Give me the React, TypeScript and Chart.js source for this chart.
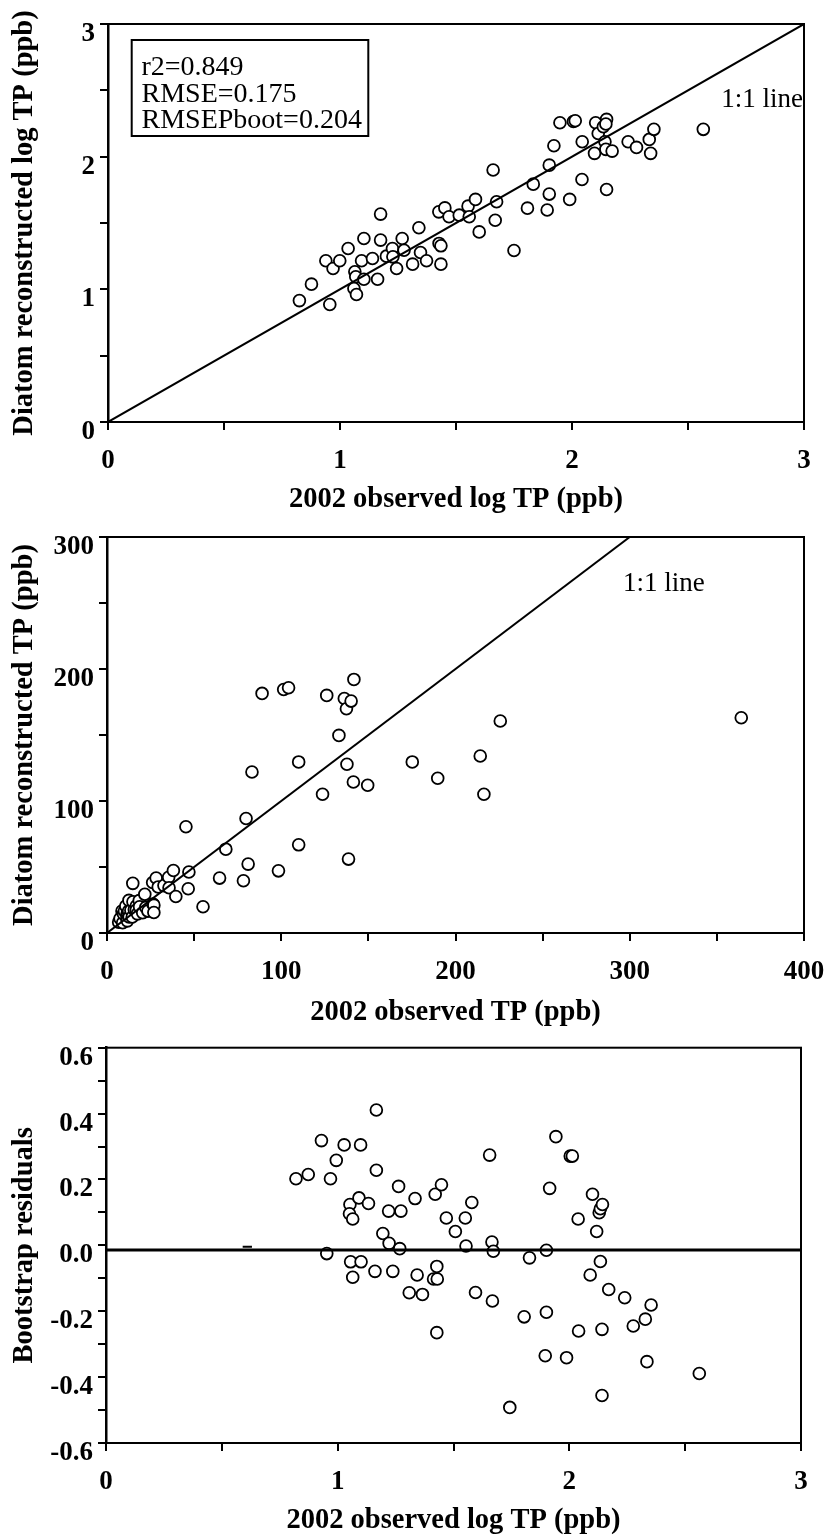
import React, { useEffect, useRef } from "react";
import { Chart, registerables } from "chart.js";

Chart.register(...registerables);

const FONT = "'Liberation Serif', 'Times New Roman', Times, serif";

// ---------- Panel 1: observed vs reconstructed log TP ----------
const logObs = [
  0.825, 0.877, 0.956, 0.939, 0.970, 0.999, 1.035, 1.064, 1.068, 1.060,
  1.071, 1.093, 1.103, 1.103, 1.140, 1.162, 1.175, 1.175, 1.200, 1.226,
  1.228, 1.244, 1.268, 1.276, 1.313, 1.340, 1.347, 1.373, 1.426, 1.427,
  1.435, 1.435, 1.452, 1.470, 1.514, 1.552, 1.557, 1.584, 1.600, 1.660,
  1.669, 1.675, 1.750, 1.808, 1.833, 1.893, 1.902, 1.902, 1.922, 1.948,
  1.990, 2.006, 2.014, 2.044, 2.043, 2.097, 2.102, 2.113, 2.135, 2.142,
  2.149, 2.149, 2.146, 2.173, 2.242, 2.278, 2.333, 2.339, 2.353, 2.566,
  2.146,
];
const logRec = [
  0.915, 1.039, 0.886, 1.215, 1.157, 1.215, 1.308, 1.132, 1.095, 1.006,
  0.961, 1.215, 1.383, 1.076, 1.232, 1.076, 1.567, 1.371, 1.250, 1.308,
  1.245, 1.157, 1.383, 1.295, 1.190, 1.464, 1.278, 1.215, 1.584, 1.346,
  1.328, 1.190, 1.614, 1.547, 1.559, 1.627, 1.547, 1.678, 1.433, 1.899,
  1.521, 1.660, 1.293, 1.612, 1.793, 1.598, 1.718, 1.936, 2.082, 2.256,
  1.678, 2.265, 2.271, 2.112, 1.828, 2.025, 2.256, 2.175, 2.225, 2.112,
  2.281, 1.753, 2.055, 2.042, 2.112, 2.070, 2.130, 2.025, 2.206, 2.206,
  2.246,
];
const logLine = [0, 3];
const statsLines = ["r2=0.849", "RMSE=0.175", "RMSEPboot=0.204"];
const lineLabel = "1:1 line";

// ---------- Panel 2: observed vs reconstructed TP ----------
const tpObs = [
  6.7, 7.5, 9.0, 8.6, 9.4, 10.0, 10.8, 11.5, 11.6, 11.5,
  11.7, 12.4, 12.6, 12.7, 13.7, 14.5, 14.8, 14.9, 15.7, 16.8,
  16.8, 17.5, 18.5, 18.7, 20.5, 21.7, 22.3, 23.5, 26.2, 26.4,
  26.9, 26.9, 28.2, 29.4, 32.7, 35.4, 35.6, 38.1, 39.5, 45.3,
  46.6, 47.0,
  55.1, 64.6, 68.2, 78.3, 81.0, 79.8, 83.2, 89.0, 98.4, 101.4,
  104.2, 110.0, 110.0, 123.7, 126.1, 133.1, 136.2, 137.4, 137.7, 138.6,
  140.1, 141.7, 141.4, 149.6, 175.2, 189.8, 214.2, 216.3, 225.7, 364.0,
];
const tpRec = [
  8.2, 11.0, 7.8, 16.7, 14.5, 16.7, 20.5, 14.3, 12.7, 10.4,
  9.2, 16.7, 24.7, 12.1, 17.3, 12.1, 37.6, 23.7, 17.7, 20.5,
  17.4, 14.5, 24.5, 19.9, 15.3, 29.3, 19.4, 16.6, 38.3, 22.0,
  21.1, 15.5, 41.7, 34.9, 35.9, 42.2, 34.3, 47.3, 27.7, 80.5,
  33.5, 46.2,
  19.9, 41.6, 63.5, 39.6, 52.2, 86.7, 122.0, 181.5, 47.1, 184.5,
  185.8, 129.6, 66.8, 105.1, 180.0, 149.7, 177.7, 169.9, 127.8, 56.0,
  175.7, 192.1, 114.4, 111.9, 129.6, 117.2, 134.1, 105.1, 160.6, 163.1,
];
const tpLine = [0, 300];

// ---------- Panel 3: bootstrap residuals ----------
const resObs = [
  0.820, 0.873, 0.930, 0.953, 0.969, 0.994, 1.028, 1.053, 1.051, 1.065,
  1.056, 1.065, 1.092, 1.099, 1.101, 1.133, 1.161, 1.167, 1.167, 1.195,
  1.220, 1.222, 1.238, 1.263, 1.268, 1.273, 1.309, 1.334, 1.343, 1.366,
  1.414, 1.421, 1.428, 1.430, 1.428, 1.448, 1.469, 1.508, 1.551, 1.554,
  1.579, 1.595, 1.656, 1.666, 1.672, 1.668, 1.743, 1.805, 1.828, 1.896,
  1.901, 1.901, 1.915, 1.942, 1.988, 2.004, 2.013, 2.038, 2.040, 2.090,
  2.100, 2.118, 2.129, 2.134, 2.134, 2.143, 2.141, 2.141, 2.170, 2.239,
  2.276, 2.328, 2.335, 2.353, 2.561,
];
const resVal = [
  0.202, 0.215, 0.318, -0.025, 0.202, 0.258, 0.305, 0.124, 0.096, 0.080,
  -0.050, -0.097, 0.144, 0.305, -0.050, 0.127, -0.079, 0.411, 0.228, 0.036,
  0.104, 0.006, -0.079, 0.179, -0.010, 0.104, -0.144, 0.142, -0.090, -0.149,
  -0.102, 0.155, -0.064, -0.102, -0.265, 0.184, 0.083, 0.042, 0.083, -0.002,
  0.130, -0.143, 0.274, 0.010, -0.018, -0.169, -0.492, -0.217, -0.038, -0.335,
  -0.203, -0.015, 0.173, 0.330, -0.341, 0.271, 0.271, 0.080, -0.260, -0.090,
  0.155, 0.042, 0.099, 0.111, -0.049, 0.124, -0.255, -0.456, -0.134, -0.159,
  -0.245, -0.224, -0.353, -0.181, -0.389,
];
const zeroLineX = [0, 3];
const zeroLineY = -0.014;
const dashX = [0.59, 0.63];
const dashY = -0.004;

const toPts = (xs: number[], ys: number[]) => xs.map((x, i) => ({ x, y: ys[i] }));

const pointStyle = {
  type: "scatter" as const,
  showLine: false,
  pointRadius: 5.9,
  pointHoverRadius: 5.9,
  pointBorderWidth: 1.8,
  pointBorderColor: "#000",
  pointBackgroundColor: "#fff",
  borderColor: "#000",
  backgroundColor: "#fff",
};

const lineStyle = (w: number) => ({
  type: "line" as const,
  showLine: true,
  borderColor: "#000",
  borderWidth: w,
  pointRadius: 0,
  pointHoverRadius: 0,
  fill: false,
  tension: 0,
});

type PanelCfg = {
  datasets: any[];
  xMin: number; xMax: number; xStep: number; xLabel: (v: number) => string;
  yMin: number; yMax: number; yStep: number; yLabel: (v: number) => string;
  xTitle: string; yTitle: string;
  padTop: number; padRight: number; yWidth: number; xHeight: number; xTitlePad: number;
  annotate: (chart: any) => void;
};

const frame = {
  id: "frame",
  beforeDatasetsDraw(chart: any) {
    const { ctx, chartArea: a } = chart;
    ctx.save();
    ctx.strokeStyle = "#000";
    ctx.lineWidth = 2;
    ctx.strokeRect(a.left, a.top, a.right - a.left, a.bottom - a.top);
    ctx.restore();
  },
};

function buildChart(canvas: HTMLCanvasElement, c: PanelCfg) {
  const tickFont = { family: FONT, size: 27, weight: "bold" as const, lineHeight: 1 };
  const titleFont = { family: FONT, size: 28.5, weight: "bold" as const, lineHeight: 1 };
  return new Chart(canvas, {
    type: "scatter",
    data: { datasets: c.datasets },
    options: {
      responsive: false,
      animation: false,
      devicePixelRatio: 1,
      layout: { padding: { top: c.padTop, right: c.padRight, left: 0, bottom: 0 } },
      plugins: { legend: { display: false }, tooltip: { enabled: false } },
      events: [],
      scales: {
        x: {
          type: "linear",
          min: c.xMin,
          max: c.xMax,
          offset: false,
          border: { display: true, color: "#000", width: 2 },
          grid: { drawOnChartArea: false, drawTicks: true, tickLength: 8, color: "#000", lineWidth: 2 },
          ticks: {
            stepSize: c.xStep,
            autoSkip: false,
            maxRotation: 0,
            minRotation: 0,
            padding: 18,
            color: "#000",
            font: tickFont,
            callback: (v: any) => c.xLabel(Number(v)),
          },
          title: {
            display: true,
            text: c.xTitle,
            color: "#000",
            font: titleFont,
            padding: { top: 0, bottom: c.xTitlePad },
          },
          afterFit: (s: any) => {
            s.height = c.xHeight;
            s.paddingLeft = 0;
            s.paddingRight = 0;
          },
        },
        y: {
          type: "linear",
          min: c.yMin,
          max: c.yMax,
          border: { display: true, color: "#000", width: 2.5 },
          grid: { drawOnChartArea: false, drawTicks: true, tickLength: 8, color: "#000", lineWidth: 2 },
          ticks: {
            stepSize: c.yStep,
            autoSkip: false,
            padding: 5,
            labelOffset: 10,
            color: "#000",
            font: tickFont,
            callback: (v: any) => c.yLabel(Number(v)),
          },
          title: {
            display: true,
            text: c.yTitle,
            color: "#000",
            font: titleFont,
            padding: { top: 10, bottom: 0 },
          },
          afterFit: (s: any) => {
            s.width = c.yWidth;
            s.paddingTop = 0;
            s.paddingBottom = 0;
          },
        },
      },
    },
    plugins: [
      frame,
      { id: "annot", afterDatasetsDraw: (chart: any) => c.annotate(chart) },
    ],
  });
}

const intLabel = (v: number) => (Math.abs(v - Math.round(v)) < 1e-9 ? String(Math.round(v)) : "");
const hundredLabel = (v: number) => (Math.round(v) % 100 === 0 ? String(Math.round(v)) : "");
const resLabel = (v: number) => {
  const r = Math.round(v * 10);
  return r % 2 === 0 ? (r / 10).toFixed(1) : "";
};

const panel1: PanelCfg = {
  datasets: [
    { ...lineStyle(2), data: toPts(logLine, logLine) },
    { ...pointStyle, data: toPts(logObs, logRec) },
  ],
  xMin: 0, xMax: 3, xStep: 0.5, xLabel: intLabel,
  yMin: 0, yMax: 3, yStep: 0.5, yLabel: intLabel,
  xTitle: "2002 observed log TP (ppb)",
  yTitle: "Diatom reconstructed log TP (ppb)",
  padTop: 24, padRight: 27, yWidth: 108, xHeight: 98, xTitlePad: 6,
  annotate: (chart: any) => {
    const { ctx, chartArea: a } = chart;
    ctx.save();
    ctx.strokeStyle = "#000";
    ctx.lineWidth = 2;
    ctx.fillStyle = "#fff";
    ctx.fillRect(a.left + 23.7, a.top + 16, 236.6, 96);
    ctx.strokeRect(a.left + 23.7, a.top + 16, 236.6, 96);
    ctx.fillStyle = "#000";
    ctx.font = `28px ${FONT}`;
    ctx.textAlign = "left";
    ctx.textBaseline = "alphabetic";
    statsLines.forEach((t, i) => ctx.fillText(t, a.left + 33.5, a.top + 51 + i * 26.5));
    ctx.font = `27px ${FONT}`;
    ctx.textAlign = "right";
    ctx.fillText(lineLabel, a.right - 1, a.top + 83);
    ctx.restore();
  },
};

const panel2: PanelCfg = {
  datasets: [
    { ...lineStyle(2), data: toPts(tpLine, tpLine) },
    { ...pointStyle, data: toPts(tpObs, tpRec) },
  ],
  xMin: 0, xMax: 400, xStep: 50, xLabel: hundredLabel,
  yMin: 0, yMax: 300, yStep: 50, yLabel: hundredLabel,
  xTitle: "2002 observed TP (ppb)",
  yTitle: "Diatom reconstructed TP (ppb)",
  padTop: 17, padRight: 27, yWidth: 107, xHeight: 107, xTitlePad: 13,
  annotate: (chart: any) => {
    const { ctx, chartArea: a } = chart;
    ctx.save();
    ctx.fillStyle = "#000";
    ctx.font = `27px ${FONT}`;
    ctx.textAlign = "left";
    ctx.textBaseline = "alphabetic";
    ctx.fillText(lineLabel, a.left + 516, a.top + 54);
    ctx.restore();
  },
};

const panel3: PanelCfg = {
  datasets: [
    { ...lineStyle(3), data: zeroLineX.map((x) => ({ x, y: zeroLineY })) },
    { ...lineStyle(2), data: dashX.map((x) => ({ x, y: dashY })) },
    { ...pointStyle, data: toPts(resObs, resVal) },
  ],
  xMin: 0, xMax: 3, xStep: 0.5, xLabel: intLabel,
  yMin: -0.6, yMax: 0.6, yStep: 0.1, yLabel: resLabel,
  xTitle: "2002 observed log TP (ppb)",
  yTitle: "Bootstrap residuals",
  padTop: 6, padRight: 30, yWidth: 106, xHeight: 92, xTitlePad: 0,
  annotate: () => {},
};

function Panel({ cfg, top, height }: { cfg: PanelCfg; top: number; height: number }) {
  const ref = useRef<HTMLCanvasElement | null>(null);
  useEffect(() => {
    if (!ref.current) return;
    const chart = buildChart(ref.current, cfg);
    return () => chart.destroy();
  }, [cfg]);
  return (
    <canvas
      ref={ref}
      width={831}
      height={height}
      style={{ position: "absolute", left: 0, top, width: 831, height, display: "block" }}
    />
  );
}

export default function App() {
  return (
    <div
      style={{
        position: "absolute",
        left: 0,
        top: 0,
        width: 831,
        height: 1535,
        background: "#fff",
        overflow: "hidden",
      }}
    >
      <Panel cfg={panel1} top={0} height={520} />
      <Panel cfg={panel2} top={520} height={520} />
      <Panel cfg={panel3} top={1040} height={495} />
    </div>
  );
}
